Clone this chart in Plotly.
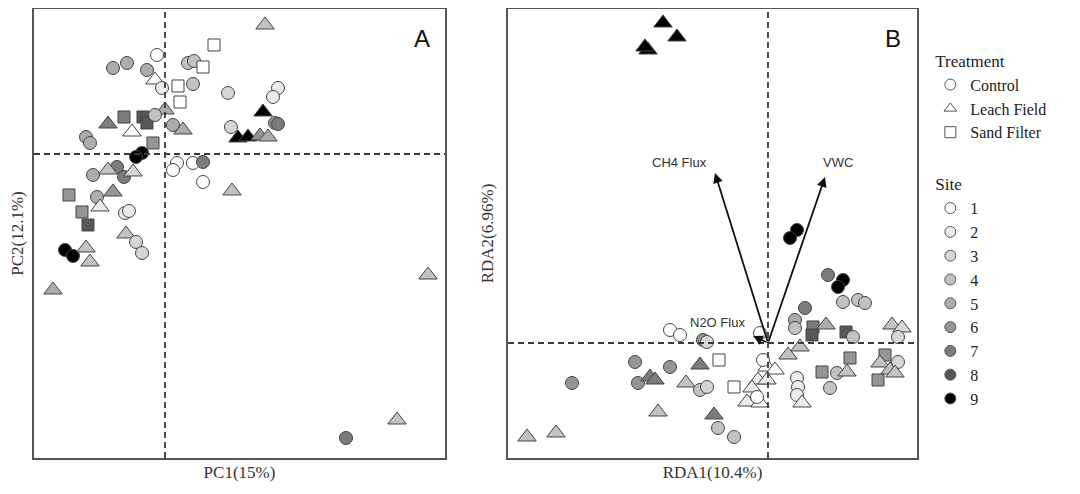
import plotly.graph_objects as go

################################################################################
# Data (scores)

site_colors = ["#ffffff", "#ebebeb", "#d6d6d6", "#c2c2c2", "#acacac",
               "#959595", "#7b7b7b", "#575757", "#000000"]
treatments = ["Control", "Leach Field", "Sand Filter"]
treat_symbols = {"Control": "circle", "Leach Field": "triangle-up", "Sand Filter": "square"}
treat_sizes = {"Control": 13, "Leach Field": 16, "Sand Filter": 12}
sites = [1, 2, 3, 4, 5, 6, 7, 8, 9]

# Panel A: PCA
pca_x = [1.00, 0.49, -0.08, -0.52, -0.38, -0.18, 0.23, 0.29, 0.38, -0.10,
         -0.03, 0.13, 0.28, 0.15, 0.63, 1.13, 1.08, 0.98, 1.10, 1.13,
         0.66, 0.73, 0.83, 0.95, 1.03, 0.00, -0.57, -0.41, -0.22, -0.18,
         -0.10, -0.33, 0.08, 0.18, -0.79, -0.75, -0.12, -0.23, -0.29, 0.12,
         0.08, 0.28, 0.38, 0.38, 0.67, -0.72, -0.48, -0.41, -0.32, -0.52,
         -0.96, -0.68, -0.65, -0.83, -0.77, -0.40, -0.36, -0.39, -0.29, -0.23,
         -1.00, -0.92, -0.79, -0.75, -1.12, 2.63, 2.32, 1.81, -0.57]
pca_y = [1.29, 1.09, 0.99, 0.86, 0.91, 0.84, 0.91, 0.93, 0.87, 0.74,
         0.66, 0.68, 0.70, 0.52, 0.61, 0.66, 0.57, 0.42, 0.31, 0.30,
         0.27, 0.16, 0.17, 0.18, 0.17, 0.44, 0.30, 0.37, 0.37, 0.31,
         0.39, 0.22, 0.29, 0.24, 0.17, 0.11, 0.11, 0.01, -0.03, -0.09,
         -0.16, -0.09, -0.08, -0.28, -0.37, -0.21, -0.13, -0.23, -0.18, -0.38,
         -0.41, -0.43, -0.53, -0.58, -0.71, -0.59, -0.57, -0.80, -0.88, -0.99,
         -0.96, -1.02, -0.94, -1.08, -1.36, -1.21, -2.66, -2.84, -0.16]
pca_trt = ["L", "S", "C", "C", "C", "C", "C", "C", "S", "L",
           "C", "S", "C", "S", "C", "C", "C", "L", "C", "C",
           "C", "L", "L", "L", "L", "L", "L", "S", "S", "S",
           "C", "L", "C", "L", "C", "C", "S", "C", "C", "C",
           "C", "C", "C", "C", "L", "C", "C", "C", "L", "L",
           "S", "C", "L", "S", "S", "C", "C", "L", "C", "C",
           "C", "C", "L", "L", "L", "L", "L", "C", "L"]
pca_site = [4, 1, 1, 5, 5, 5, 4, 4, 1, 1,
            2, 1, 4, 1, 3, 2, 2, 9, 6, 7,
            3, 9, 9, 6, 5, 5, 7, 7, 8, 8,
            4, 1, 5, 5, 5, 5, 6, 9, 9, 1,
            1, 1, 7, 1, 4, 5, 7, 7, 3, 6,
            6, 5, 2, 6, 8, 2, 2, 4, 3, 3,
            9, 9, 4, 4, 5, 4, 4, 7, 4]

# Panel B: RDA
rda_x = [-1.05, -0.91, -1.20, -1.23, 0.29, 0.22, 0.60, 0.75, 0.70, 0.75,
         0.90, 0.97, 0.37, 0.27, 0.27, 0.45, 0.44, 0.58, 0.78, 0.85,
         1.24, 1.34, 1.30, 0.32, 0.20, 0.82, 0.54, 0.69, 0.79, 0.62,
         1.17, 1.12, 1.22, 1.10, 1.30, 1.27, 0.29, 0.30, 0.29, 0.34,
         -0.98, -0.88, -0.65, -0.61, -1.96, -1.33, -0.98, -0.68, -0.49, -1.30,
         -1.18, -1.13, -0.82, -0.68, -0.61, -0.34, -0.01, 0.07, -0.10, -0.16,
         -0.21, -0.08, -0.01, -0.11, -0.05, -1.10, -0.54, -0.50, -0.34, -2.41,
         -2.12, -0.08]
rda_y = [3.20, 3.06, 2.93, 2.96, 1.13, 1.05, 0.68, 0.63, 0.56, 0.41,
         0.43, 0.40, 0.35, 0.23, 0.15, 0.16, 0.08, 0.18, 0.11, 0.06,
         0.18, 0.15, 0.06, -0.04, -0.12, -0.15, -0.29, -0.30, -0.29, -0.45,
         -0.12, -0.20, -0.27, -0.37, -0.19, -0.30, -0.35, -0.44, -0.52, -0.60,
         0.13, 0.08, 0.03, 0.01, -0.40, -0.19, -0.24, -0.22, -0.17, -0.40,
         -0.34, -0.37, -0.40, -0.47, -0.44, -0.44, -0.24, -0.27, -0.37, -0.45,
         -0.59, -0.60, -0.37, -0.54, -0.17, -0.69, -0.72, -0.85, -0.94, -0.94,
         -0.90, 0.10]
rda_trt = ["L", "L", "L", "L", "C", "C", "C", "C", "C", "C",
           "C", "C", "C", "C", "C", "S", "S", "L", "S", "C",
           "L", "L", "C", "L", "L", "S", "S", "C", "L", "C",
           "S", "L", "L", "S", "C", "L", "C", "C", "C", "L",
           "C", "C", "C", "C", "C", "C", "C", "L", "S", "C",
           "L", "L", "L", "C", "C", "S", "L", "L", "L", "L",
           "L", "L", "L", "C", "C", "L", "L", "C", "C", "L",
           "L", "C"]
rda_site = [9, 9, 9, 9, 9, 9, 7, 9, 9, 4,
            4, 4, 7, 5, 4, 7, 8, 5, 8, 4,
            4, 3, 3, 4, 4, 6, 6, 4, 4, 4,
            6, 4, 4, 6, 3, 4, 2, 2, 2, 2,
            1, 1, 6, 3, 6, 6, 6, 7, 1, 6,
            7, 7, 4, 4, 3, 1, 1, 1, 2, 2,
            2, 1, 2, 1, 1, 4, 7, 4, 4, 4,
            4, 1]

# environmental vectors
env_names = ["CH4 Flux", "VWC", "N2O Flux"]
env_x = [-0.53, 0.57, -0.15]
env_y = [1.70, 1.66, 0.07]

code = {"C": "Control", "L": "Leach Field", "S": "Sand Filter"}

################################################################################
# Figure

fig = go.Figure()

def add_points(xs, ys, trts, sts, xa, ya):
    fig.add_trace(go.Scatter(
        x=xs, y=ys, mode="markers", xaxis=xa, yaxis=ya, showlegend=False,
        marker=dict(
            symbol=[treat_symbols[code[t]] for t in trts],
            size=[treat_sizes[code[t]] for t in trts],
            color=[site_colors[s - 1] for s in sts],
            opacity=1,
            line=dict(color="#444444", width=1)),
    ))

add_points(pca_x, pca_y, pca_trt, pca_site, "x", "y")
add_points(rda_x, rda_y, rda_trt, rda_site, "x2", "y2")

# legend entries
for t in treatments:
    fig.add_trace(go.Scatter(
        x=[None], y=[None], mode="markers", name=t,
        legendgroup="trt", legendgrouptitle_text="Treatment",
        marker=dict(symbol=treat_symbols[t], color="white", size=11,
                    line=dict(color="#555555", width=1)),
    ))
for s in sites:
    fig.add_trace(go.Scatter(
        x=[None], y=[None], mode="markers", name=str(s),
        legendgroup="site", legendgrouptitle_text="Site",
        marker=dict(symbol="circle", color=site_colors[s - 1], size=11,
                    line=dict(color="#555555", width=1)),
    ))

# arrows
for name, ex, ey in zip(env_names, env_x, env_y):
    fig.add_annotation(
        x=ex, y=ey, ax=0, ay=0, xref="x2", yref="y2", axref="x2", ayref="y2",
        showarrow=True, arrowhead=2, arrowsize=1.1, arrowwidth=1.8,
        arrowcolor="#111111", text="")
label_pos = {"CH4 Flux": (-0.88, 1.80), "VWC": (0.70, 1.80), "N2O Flux": (-0.50, 0.20)}
for name in env_names:
    lx, ly = label_pos[name]
    fig.add_annotation(x=lx, y=ly, xref="x2", yref="y2", text=name, showarrow=False,
                       font=dict(family="Liberation Sans", size=13, color="#333333"))

# dashed zero lines
dash = dict(color="#3a3a3a", width=1.8, dash="6px,4px")
for xa, ya in [("x", "y"), ("x2", "y2")]:
    fig.add_shape(type="line", xref=xa + " domain", yref=ya, x0=0, x1=1, y0=0, y1=0, line=dash)
    fig.add_shape(type="line", xref=xa, yref=ya + " domain", x0=0, x1=0, y0=0, y1=1, line=dash)

# panel letters
fig.add_annotation(x=0.383, y=0.939, xref="paper", yref="paper", text="A", showarrow=False,
                   xanchor="center", yanchor="middle",
                   font=dict(family="Liberation Sans", size=24, color="#111111"))
fig.add_annotation(x=0.819, y=0.939, xref="paper", yref="paper", text="B", showarrow=False,
                   xanchor="center", yanchor="middle",
                   font=dict(family="Liberation Sans", size=24, color="#111111"))

ax_style = dict(showgrid=False, zeroline=False, showticklabels=False, ticks="",
                showline=True, mirror=True, linecolor="#555555", linewidth=2,
                automargin=False)
title_font = dict(family="Liberation Serif", size=17, color="#333333")

fig.update_layout(
    width=1080, height=494,
    margin=dict(l=0, r=0, t=0, b=0),
    paper_bgcolor="white", plot_bgcolor="white",
    xaxis=dict(domain=[0.02407, 0.40463], range=[-1.31, 2.80],
               title=dict(text="PC1(15%)", font=title_font, standoff=7), **ax_style),
    yaxis=dict(domain=[0.0891, 0.998], range=[-3.04, 1.45],
               title=dict(text="PC2(12.1%)", font=title_font, standoff=10), **ax_style),
    xaxis2=dict(domain=[0.46296, 0.84167], range=[-2.60, 1.49], anchor="y2",
                title=dict(text="RDA1(10.4%)", font=title_font, standoff=7), **ax_style),
    yaxis2=dict(domain=[0.0891, 0.998], range=[-1.15, 3.34], anchor="x2",
                title=dict(text="RDA2(6.96%)", font=title_font, standoff=8), **ax_style),
    legend=dict(x=0.854, y=0.93, xanchor="left", yanchor="top",
                font=dict(family="Liberation Serif", size=16, color="#222222"),
                grouptitlefont=dict(family="Liberation Serif", size=17, color="#222222"),
                tracegroupgap=27, itemwidth=30, bgcolor="rgba(0,0,0,0)"),
)

fig.write_html("out.html")
